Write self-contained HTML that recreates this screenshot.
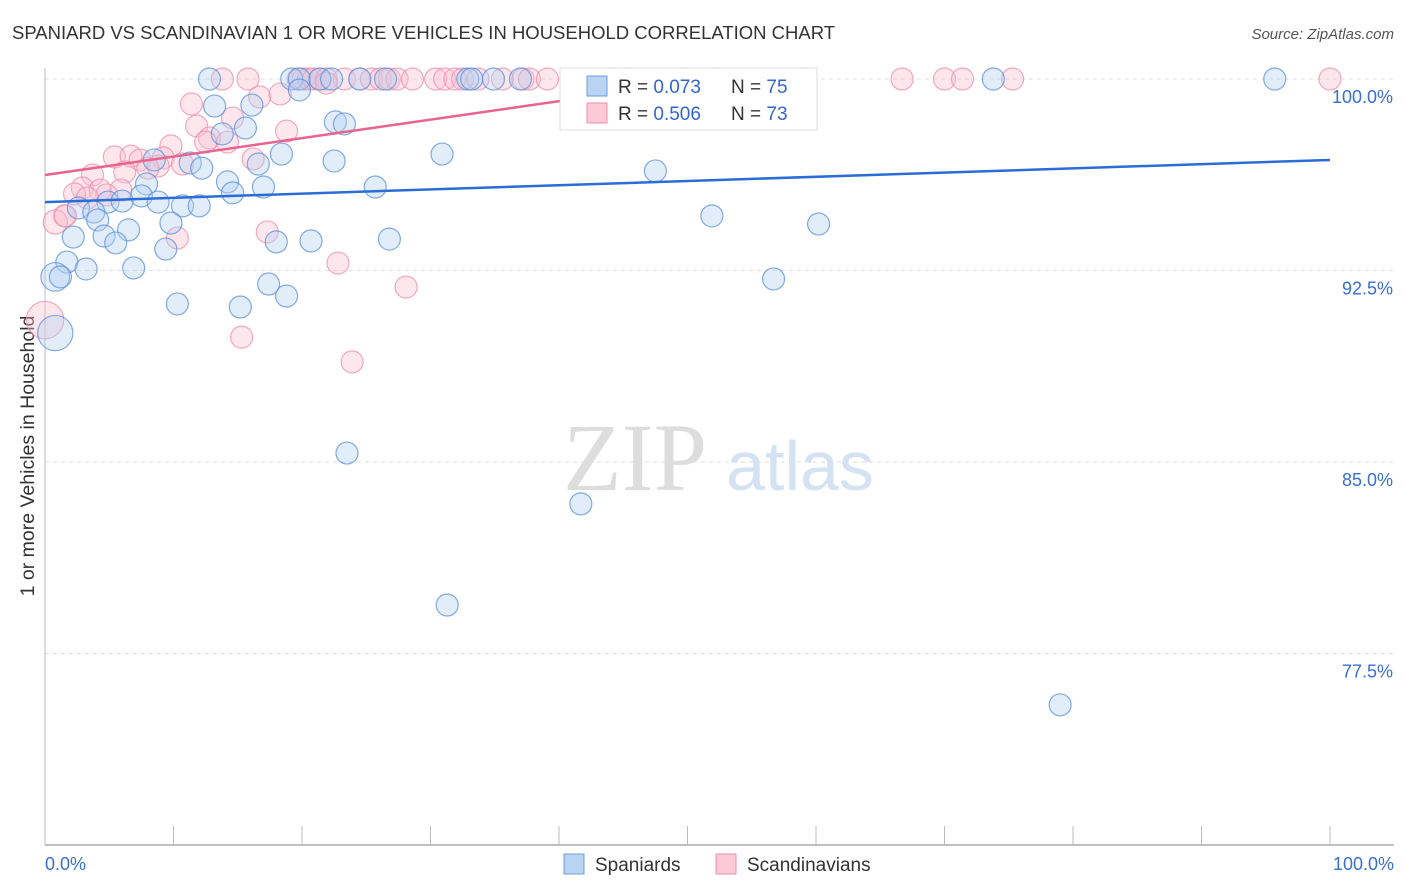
<!DOCTYPE html>
<html><head><meta charset="utf-8">
<style>
body{margin:0;background:#fff;font-family:"Liberation Sans",sans-serif;}
svg{display:block}
</style></head>
<body>
<svg id="chart" width="1406" height="892">
<text x="12" y="39" font-size="18.5" fill="#333">SPANIARD VS SCANDINAVIAN 1 OR MORE VEHICLES IN HOUSEHOLD CORRELATION CHART</text>
<text x="1394" y="39" font-size="15" fill="#555" font-style="italic" text-anchor="end">Source: ZipAtlas.com</text>
<text transform="translate(34,456) rotate(-90)" font-size="19.5" fill="#333" text-anchor="middle">1 or more Vehicles in Household</text>
<g>
<text x="635" y="490" font-size="96" fill="#ddd" font-family="Liberation Serif" text-anchor="middle">ZIP</text>
<text x="800" y="490" font-size="70" fill="#d4e2f4" text-anchor="middle">atlas</text>
</g>
<g id="grid"></g>
<g id="axes"></g>
<g id="pts"></g>
<g id="lines"></g>
<g>
<rect x="560" y="68" width="257" height="62" fill="#fff" stroke="#ddd"/>
<rect x="587" y="76" width="20" height="20" fill="#b9d3f3" stroke="#6d9be0"/>
<rect x="587" y="103" width="20" height="20" fill="#fbc9d7" stroke="#ec8fab"/>
<text x="618" y="93" font-size="19" fill="#333">R = <tspan fill="#3366cc">0.073</tspan></text>
<text x="731" y="93" font-size="19" fill="#333">N = <tspan fill="#3366cc">75</tspan></text>
<text x="618" y="120" font-size="19" fill="#333">R = <tspan fill="#3366cc">0.506</tspan></text>
<text x="731" y="120" font-size="19" fill="#333">N = <tspan fill="#3366cc">73</tspan></text>
</g>
<g>
<rect x="564" y="854" width="20" height="20" fill="#b9d3f3" stroke="#6d9be0"/>
<text x="595" y="871" font-size="19" fill="#333">Spaniards</text>
<rect x="716" y="854" width="20" height="20" fill="#fbc9d7" stroke="#ec8fab"/>
<text x="747" y="871" font-size="19" fill="#333">Scandinavians</text>
</g>
</svg>
<script>
const yTicks=[100,92.5,85,77.5];
const yTickLabels=["100.0%","92.5%","85.0%","77.5%"];
const xTickLabels=["0.0%","100.0%"];
const spanX=[12.8,19.2,19.8,21.4,22.3,24.5,26.5,32.9,33.2,34.9,37.0,58.8,73.8,95.7,19.8,13.2,16.1,22.6,23.3,15.6,13.8,18.4,22.5,30.9,8.5,11.3,12.2,16.6,47.5,14.2,7.9,17.0,25.7,14.6,7.5,4.9,6.0,8.8,10.7,12.0,2.6,3.8,4.1,9.8,51.9,60.2,2.2,4.6,6.5,5.5,18.0,20.7,26.8,9.4,1.7,3.2,6.9,0.8,1.2,56.7,17.4,18.8,10.3,15.2,0.8,23.5,41.7,31.3,79.0];
const spanY=[100,100,100,100,100,100,100,100,100,100,100,100,100,100,99.57,98.94,98.98,98.32,98.24,98.08,97.85,97.06,96.79,97.06,96.83,96.71,96.51,96.67,96.40,95.97,95.89,95.77,95.77,95.54,95.42,95.18,95.22,95.18,95.03,95.03,94.95,94.79,94.48,94.36,94.64,94.32,93.81,93.85,94.09,93.58,93.62,93.66,93.73,93.34,92.83,92.56,92.60,92.25,92.25,92.17,91.97,91.50,91.19,91.07,90.05,85.35,83.36,79.40,75.49];
const spanWeight=[1,1,1,1,1,1,1,1,1,1,1,1,1,1,1,1,1,1,1,1,1,1,1,1,1,1,1,1,1,1,1,1,1,1,1,1,1,1,1,1,1,1,1,1,1,1,1,1,1,1,1,1,1,1,1,1,1,1.3,1,1,1,1,1,1,1.6,1,1,1,1];
const scanX=[13.8,15.8,19.7,20.1,20.5,20.9,21.4,21.9,23.3,24.5,25.4,26.1,26.8,27.4,28.6,30.4,31.1,31.9,32.5,33.7,35.6,37.2,37.7,39.1,43.9,45.1,50.0,52.3,66.7,70.0,71.4,75.3,100.0,21.9,16.7,18.3,11.4,14.6,11.8,18.8,12.8,12.5,14.2,9.8,5.4,6.7,7.4,9.2,16.2,10.7,8.8,6.2,3.7,8.0,2.9,5.9,4.3,2.3,4.8,3.3,1.5,0.8,1.6,17.3,10.3,22.8,28.1,15.3,23.9,0.0];
const scanY=[100,100,100,100,100,100,100,100,100,100,100,100,100,100,100,100,100,100,100,100,100,100,100,100,100,100,100,100,100,100,100,100,100,99.84,99.30,99.41,99.02,98.47,98.16,97.96,97.69,97.53,97.53,97.38,96.95,96.98,96.83,96.91,96.87,96.67,96.59,96.36,96.24,96.51,95.73,95.65,95.65,95.50,95.46,95.34,94.64,94.40,94.64,94.01,93.77,92.79,91.85,89.89,88.92,90.56];
const scanWeight=[1,1,1,1,1,1,1,1,1,1,1,1,1,1,1,1,1,1,1,1,1,1,1,1,1,1,1,1,1,1,1,1,1,1,1,1,1,1,1,1,1,1,1,1,1,1,1,1,1,1,1,1,1,1,1,1,1,1,1,1,1,1.1,1,1,1,1,1,1,1,1.7];
const blueTrend=[95.18,96.83];
const pinkTrend=[96.24,100.0,52];
const NS="http://www.w3.org/2000/svg";
const X=v=>45+v*12.85;
const Y=v=>79+(100-v)*191.5/7.5;
function mk(tag,at,parent){const e=document.createElementNS(NS,tag);for(const k in at)e.setAttribute(k,at[k]);parent.appendChild(e);return e;}
const grid=document.getElementById('grid'),axes=document.getElementById('axes'),pts=document.getElementById('pts'),lines=document.getElementById('lines');
yTicks.forEach((t,i)=>{
 const l=mk('line',{x1:45,x2:1394,y1:Y(t),y2:Y(t),stroke:'#ddd','stroke-dasharray':'4,4'},grid);
 
 
 const tx=mk('text',{x:1393,y:Y(t)+24,'font-size':18,fill:'#3a6fd0','text-anchor':'end'},axes);
 tx.textContent=yTickLabels[i];
 
 
});
const ya=mk('line',{x1:45,x2:45,y1:68,y2:845,stroke:'#bbb'},axes);


const xa=mk('line',{x1:45,x2:1394,y1:845,y2:845,stroke:'#aaa','stroke-width':1.5},axes);


for(let i=1;i<=10;i++){const t=mk('line',{x1:X(i*10),x2:X(i*10),y1:826,y2:845,stroke:'#bbb'},axes);
 
 }
[[0,'start',45],[100,'end',1394]].forEach((d,i)=>{const t=mk('text',{x:d[2],y:870,'font-size':18,fill:'#3a6fd0','text-anchor':d[1]},axes);t.textContent=xTickLabels[i];
 
 });
function dots(xs,ys,ws,fill,stroke,name){xs.forEach((x,i)=>{const c=mk('circle',{cx:X(x),cy:Y(ys[i]),r:11*ws[i],fill:fill,'fill-opacity':0.38,stroke:stroke,'stroke-width':1.2,'stroke-opacity':0.75},pts);
 
 });}
dots(scanX,scanY,scanWeight,'#fbc0d0','#ec8fab','scandinavian-point');
dots(spanX,spanY,spanWeight,'#b3cff2','#5b8fdc','spaniard-point');
const bl=mk('line',{x1:X(0),y1:Y(blueTrend[0]),x2:X(100),y2:Y(blueTrend[1]),stroke:'#2a6dd6','stroke-width':2.5},lines);


const pl=mk('line',{x1:X(0),y1:Y(pinkTrend[0]),x2:X(pinkTrend[2]),y2:Y(pinkTrend[1]),stroke:'#e8638f','stroke-width':2.5},lines);


</script>
</body></html>
